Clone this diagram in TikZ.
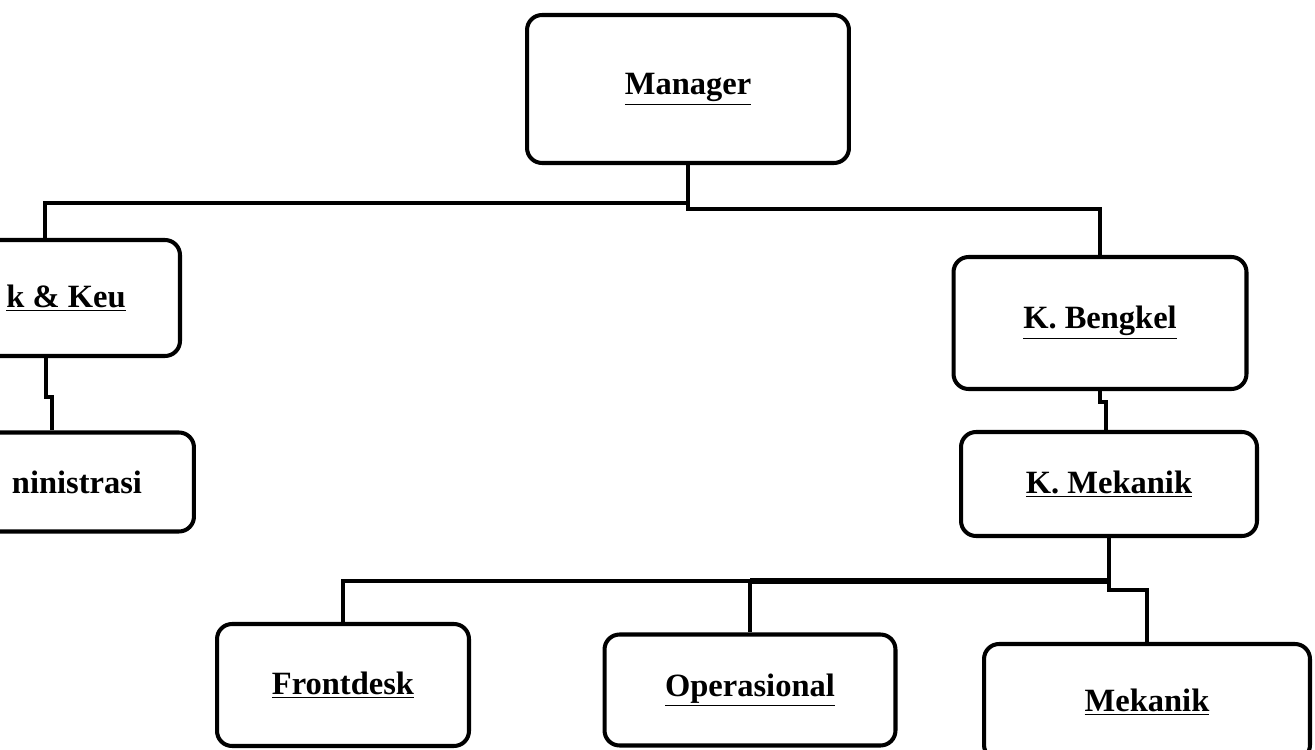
\documentclass[tikz,border=0pt]{standalone}
\usepackage{fontspec}
\setmainfont{Liberation Serif}
\usepackage{tikz}
\usetikzlibrary{arrows,positioning,calc}
\tikzstyle{unit} = [draw,line width=2.3pt,rounded corners=0.3cm,inner sep=0pt,font=\bfseries\fontsize{18.5}{22}\selectfont]
\tikzstyle{link} = [line width=1.8pt]

\begin{document}
\begin{tikzpicture}[x=0.02cm,y=-0.02cm]
                  \useasboundingbox (0,0) rectangle (1315,750);
                  \node (mgr)[unit,minimum width=6.44cm,minimum height=2.96cm]  at (688,89)  {\underline{Manager}};
                  \node (keu)[unit,minimum width=4.56cm,minimum height=2.32cm]  at (66,298)  {\underline{k \& Keu}};
                  \node (adm)[unit,minimum width=4.68cm,minimum height=1.98cm]  at (77,482)  {ninistrasi};
                  \node (bengkel)[unit,minimum width=5.86cm,minimum height=2.64cm]  at (1100,323) {\underline{K. Bengkel}};
                  \node (kmek)[unit,minimum width=5.92cm,minimum height=2.08cm]  at (1109,484) {\underline{K. Mekanik}};
                  \node (front)[unit,minimum width=5.04cm,minimum height=2.44cm]  at (343,685) {\underline{Frontdesk}};
                  \node (oper)[unit,minimum width=5.82cm,minimum height=2.22cm]  at (750,690) {\underline{Operasional}};
                  \node (mek)[unit,minimum width=6.52cm,minimum height=2.32cm]  at (1147,702) {\underline{Mekanik}};

                  \coordinate (mgrL) at (688,203);
                  \coordinate (mgrR) at (688,209);
                  \coordinate (kmL) at (1109,581);
                  \coordinate (kmR) at (1109,590);

                  \draw[link] (mgr.south) -- (mgrR) -| (bengkel.north);
                  \draw[link] (mgrL) -| ([xshift=-0.42cm]keu.north);
                  \draw[link] ([xshift=-0.4cm]keu.south) -- ++(0,39) -| ([xshift=-0.5cm]adm.north);
                  \draw[link] (bengkel.south) -- ++(0,11) -| ([xshift=-0.06cm]kmek.north);
                  \draw[link] (kmek.south) -- (kmL) -| (front.north);
                  \draw[link] (oper.north) -- (oper.north |- kmL);
                  \draw[line width=3pt] (oper.north |- kmL) -- (kmL);
                  \draw[link] (kmL) -- (kmR) -| (mek.north);
            \end{tikzpicture}
\end{document}
